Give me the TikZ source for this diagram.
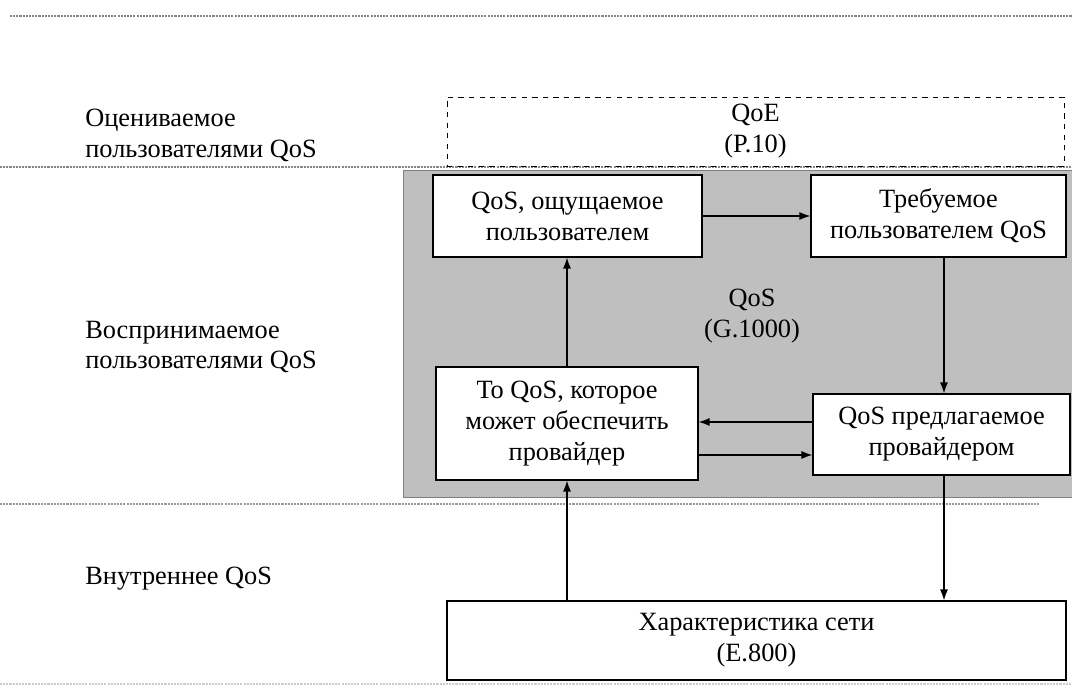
\documentclass[tikz,border=0pt]{standalone}
\usepackage{fontspec}
\setmainfont{Liberation Serif}
\usetikzlibrary{arrows,arrows.meta}
\tikzset{
  box/.style = {draw, fill=white, align=center, inner sep=1pt, line width=0.7pt,
                font=\fontsize{15}{17.6}\selectfont},
  label/.style = {align=left, anchor=west, inner sep=0pt,
                  font=\fontsize{15}{17.6}\selectfont},
  arr/.style = {-{Latex[length=2.2mm,width=1.6mm]}, line width=0.7pt},
  sep/.style = {gray!80, dash pattern=on 1.2pt off 0.6pt, line width=0.6pt}
}

\begin{document}
\begin{tikzpicture}[x=0.02cm, y=-0.02cm]
	\useasboundingbox (0,0) rectangle (1072,689);
	% separators
	\draw[sep, gray!95] (10,16) -- (1072,16);
	\draw[sep, gray!95] (0,167) -- (1072,167);
	\draw[sep] (0,504) -- (1040,504);
	\draw[sep, gray!40] (0,684) -- (1072,684);
	% levels
	\node[label] (l1) at (85,135) {Оцениваемое\\пользователями QoS};
	\node[label] (l2) at (85,347) {Воспринимаемое\\пользователями QoS};
	\node[label] (l3) at (85,579) {Внутреннее QoS};
	% QoE
	\node[box, dashed, line width=0.5pt, minimum width=12.34cm, minimum height=1.38cm] (qoe) at (755.5,131.5) {QoE\\(P.10)};
	% G.1000 area
	\fill[black!25] (403,170) rectangle (1072,497);
	\draw[gray] (1072,170) -- (403,170) -- (403,497) -- (1072,497);
	\node[font=\fontsize{15}{17.6}\selectfont, align=center] (g) at (752,316) {QoS\\(G.1000)};
	\node[box, minimum width=5.38cm, minimum height=1.64cm] (A) at (567.5,216) {QoS, ощущаемое\\пользователем};
	\node[box, minimum width=5.1cm, minimum height=1.64cm] (B) at (938.5,216) {Требуемое\\пользователем QoS};
	\node[box, minimum width=5.24cm, minimum height=2.26cm] (C) at (567,423.5) {То QoS, которое\\может обеспечить\\провайдер};
	\node[box, minimum width=5.14cm, minimum height=1.62cm] (D) at (941.5,434.5) {QoS предлагаемое\\провайдером};
	\node[box, minimum width=12.38cm, minimum height=1.58cm] (E) at (756.5,640.5) {Характеристика сети\\(E.800)};
	% columns and rows of arrows
	\coordinate (lx) at (567,0);
	\coordinate (rx) at (944,0);
	\coordinate (ty) at (0,422);
	\coordinate (by) at (0,455);
	\draw[arr] (A.east) -- (A.east -| B.west);
	\draw[arr] (C.north -| lx) -- (A.south -| lx);
	\draw[arr] (B.south -| rx) -- (D.north -| rx);
	\draw[arr] (D.west |- ty) -- (C.east |- ty);
	\draw[arr] (C.east |- by) -- (D.west |- by);
	\draw[arr] (E.north -| lx) -- (C.south -| lx);
	\draw[arr] (D.south -| rx) -- (E.north -| rx);
\end{tikzpicture}
\end{document}
